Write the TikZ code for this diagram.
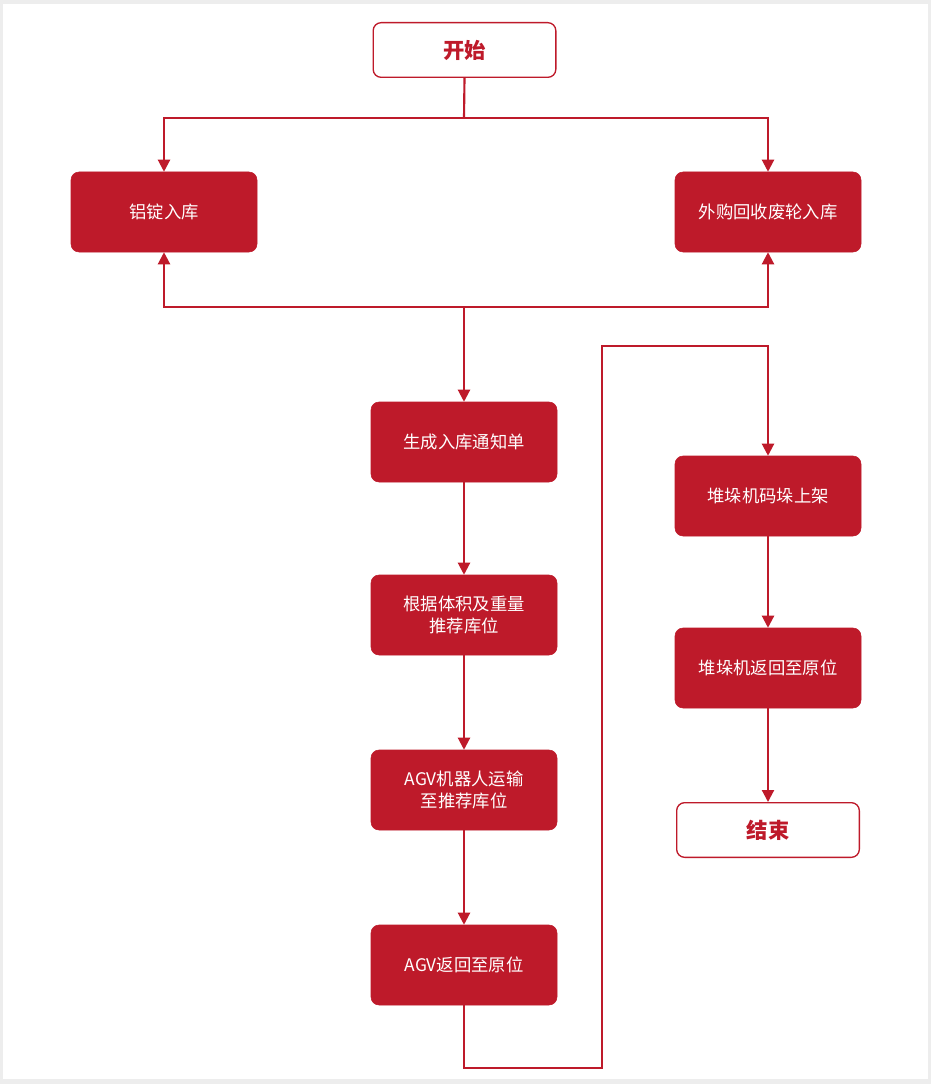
\documentclass[tikz,border=0pt]{standalone}
\usepackage{fontspec}
\setmainfont{Noto Sans CJK SC}
\usetikzlibrary{arrows.meta}
\definecolor{rd}{HTML}{BE1A2A}
\begin{document}
\begin{tikzpicture}[x=0.75pt,y=-0.75pt,
  box/.style={draw=rd,fill=rd,rounded corners=6pt,minimum width=139.5pt,minimum height=60pt,text=white,font=\fontsize{13}{16}\selectfont,align=center,inner sep=0pt},
  term/.style={draw=rd,line width=1pt,fill=white,rounded corners=6pt,minimum width=137pt,minimum height=41pt,text=rd,font=\fontsize{16}{18}\selectfont\bfseries,inner sep=0pt},
  ln/.style={draw=rd,line width=1.6pt},
  ar/.style={ln,-{Triangle[length=9pt,width=9pt]}}]
\fill[black!7] (0,0) rectangle (931,1084);
\fill[white] (3,4) rectangle (928,1079);
\node[term] (start) at (464.5,50) {开始};
\node[box] (a) at (164,212) {铝锭入库};
\node[box] (b) at (768,212) {外购回收废轮入库};
\node[box] (c) at (464,442) {生成入库通知单};
\node[box] (d) at (464,615) {根据体积及重量\\推荐库位};
\node[box] (e) at (464,790) {AGV机器人运输\\至推荐库位};
\node[box] (f) at (464,965) {AGV返回至原位};
\node[box] (g) at (768,496) {堆垛机码垛上架};
\node[box] (h) at (768,668) {堆垛机返回至原位};
\node[term] (end) at (768,830) {结束};
\coordinate (t) at (464,118);
\coordinate (m) at (464,307);
\draw[ln] (start.south) -- (t);
\draw[ar] (t) -| (a.north);
\draw[ar] (t) -| (b.north);
\draw[ar] (m) -| (a.south);
\draw[ar] (m) -| (b.south);
\draw[ar] (m) -- (c.north);
\draw[ar] (c) -- (d);
\draw[ar] (d) -- (e);
\draw[ar] (e) -- (f);
\coordinate (p1) at (464,1068);
\coordinate (p2) at (602,1068);
\coordinate (p3) at (602,346);
\coordinate (p4) at (768,346);
\draw[ar] (f.south) -- (p1) -- (p2) -- (p3) -- (p4) -- (g.north);
\draw[ar] (g) -- (h);
\draw[ar] (h) -- (end);
\end{tikzpicture}
\end{document}
